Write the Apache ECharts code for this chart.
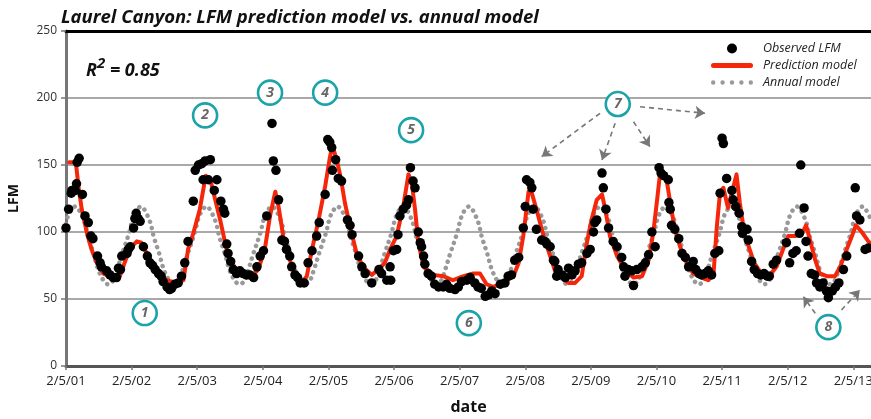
<!DOCTYPE html>
<html>
<head>
<meta charset="utf-8">
<script src="https://cdn.jsdelivr.net/npm/echarts@6/dist/echarts.min.js"></script>
<style>
html,body{margin:0;padding:0;background:#fff;}
#chart{width:871px;height:419px;}
</style>
</head>
<body>
<div id="chart"></div>
<script>
// x values: years since 2/5/01
const tickLabels = ['2/5/01','2/5/02','2/5/03','2/5/04','2/5/05','2/5/06','2/5/07','2/5/08','2/5/09','2/5/10','2/5/11','2/5/12','2/5/13'];

const observedLFM = [
[0.00,103],[0.04,117],[0.08,129],[0.09,131],[0.14,131],[0.16,136],[0.17,152],[0.20,155],[0.25,128],[0.29,112],
[0.34,107],[0.38,97],[0.41,95],[0.48,82],[0.52,77],[0.54,74],[0.62,71],[0.67,68],[0.72,66],[0.77,66],[0.80,73],
[0.83,72],[0.85,82],[0.93,84],[0.95,87],[0.98,89],[1.03,103],[1.05,110],[1.07,114],[1.10,110],[1.13,108],
[1.18,89],[1.24,82],[1.28,77],[1.32,75],[1.36,72],[1.41,69],[1.45,67],[1.48,63],[1.54,59],[1.58,57],[1.61,58],
[1.66,61],[1.71,62],[1.76,67],[1.81,77],[1.86,93],[1.94,123],[1.97,146],[2.02,150],[2.07,151],[2.12,153],
[2.20,154],[2.09,139],[2.17,139],[2.26,131],[2.30,139],[2.36,123],[2.40,117],[2.42,114],[2.45,91],[2.47,84],
[2.51,78],[2.55,72],[2.60,69],[2.65,71],[2.70,69],[2.75,68],[2.80,68],[2.86,66],[2.91,74],[2.96,82],[3.01,86],
[3.06,112],[3.14,181],[3.16,153],[3.20,146],[3.24,124],[3.29,94],[3.33,93],[3.36,87],[3.41,82],[3.44,74],
[3.49,68],[3.53,66],[3.57,62],[3.63,62],[3.69,77],[3.75,86],[3.82,97],[3.86,107],[3.95,128],[3.99,169],
[4.02,167],[4.05,163],[4.06,146],[4.11,154],[4.15,140],[4.20,138],[4.29,109],[4.33,105],[4.36,98],[4.46,82],
[4.51,74],[4.56,69],[4.66,62],[4.77,72],[4.81,69],[4.89,64],[4.94,74],[4.95,64],[4.99,86],[5.04,87],[5.06,98],
[5.09,112],[5.14,117],[5.19,120],[5.22,124],[5.25,148],[5.29,138],[5.32,133],[5.37,100],[5.40,92],[5.42,89],
[5.45,82],[5.47,76],[5.52,69],[5.57,67],[5.62,61],[5.68,59],[5.75,59],[5.80,61],[5.85,58],[5.93,57],[5.98,59],
[6.03,63],[6.11,64],[6.16,66],[6.23,62],[6.28,59],[6.33,58],[6.39,52],[6.44,53],[6.49,56],[6.54,54],[6.62,61],
[6.69,62],[6.74,67],[6.79,68],[6.84,79],[6.90,81],[6.97,103],[7.00,119],[7.02,139],[7.07,137],[7.10,133],
[7.12,117],[7.17,102],[7.25,94],[7.30,93],[7.33,91],[7.38,89],[7.43,79],[7.45,78],[7.48,67],[7.50,72],[7.56,68],
[7.61,66],[7.66,73],[7.71,68],[7.76,71],[7.81,76],[7.86,77],[7.94,84],[7.99,87],[8.04,100],[8.06,107],[8.09,109],
[8.17,144],[8.19,133],[8.23,117],[8.27,103],[8.34,93],[8.40,89],[8.47,81],[8.50,74],[8.52,67],[8.57,72],[8.62,71],
[8.65,60],[8.70,72],[8.78,74],[8.83,77],[8.88,83],[8.93,100],[8.98,89],[9.04,148],[9.07,144],[9.11,142],[9.18,139],
[9.19,122],[9.21,117],[9.23,105],[9.28,102],[9.34,95],[9.39,84],[9.44,81],[9.49,74],[9.56,78],[9.60,72],[9.65,69],
[9.69,68],[9.74,69],[9.79,71],[9.84,68],[9.89,84],[9.95,86],[9.97,129],[10.00,170],[10.02,166],[10.07,140],
[10.15,131],[10.17,124],[10.21,119],[10.26,114],[10.30,104],[10.31,99],[10.38,102],[10.40,94],[10.45,78],
[10.49,72],[10.54,69],[10.59,68],[10.64,69],[10.69,67],[10.72,67],[10.78,76],[10.83,79],[10.98,92],[11.03,77],
[11.08,84],[11.13,86],[11.18,99],[11.20,150],[11.25,118],[11.28,93],[11.31,82],[11.36,69],[11.41,68],[11.44,62],
[11.49,59],[11.54,62],[11.59,56],[11.62,51],[11.68,56],[11.73,59],[11.78,62],[11.85,72],[11.90,82],[12.03,133],
[12.05,112],[12.10,109],[12.18,87],[12.23,88]
];

const predictionModel = [
[0.05,152],[0.15,152],[0.19,134],[0.24,117],[0.32,99],[0.39,87],[0.47,77],[0.57,69],[0.72,66],[0.82,67],
[0.93,82],[1.00,89],[1.08,93],[1.15,92],[1.25,82],[1.38,72],[1.53,64],[1.69,62],[1.79,64],[1.86,87],[1.94,99],
[2.04,117],[2.13,142],[2.20,139],[2.26,127],[2.35,109],[2.46,84],[2.62,69],[2.83,67],[2.93,72],[3.03,87],
[3.11,112],[3.19,130],[3.24,119],[3.31,97],[3.39,82],[3.49,69],[3.59,62],[3.67,67],[3.75,87],[3.85,109],
[3.95,134],[4.02,155],[4.06,165],[4.10,158],[4.14,151],[4.19,140],[4.25,122],[4.33,104],[4.43,84],[4.53,74],
[4.66,68],[4.76,72],[4.86,77],[4.95,88],[5.04,97],[5.14,119],[5.22,143],[5.27,137],[5.32,117],[5.37,92],
[5.45,74],[5.60,68],[5.75,67],[5.90,64],[6.06,67],[6.21,69],[6.31,69],[6.41,61],[6.51,59],[6.67,62],[6.82,67],
[6.90,77],[6.97,97],[7.05,130],[7.10,129],[7.17,117],[7.28,97],[7.38,82],[7.46,70],[7.56,66],[7.66,62],[7.76,62],
[7.86,67],[7.94,92],[8.01,109],[8.09,124],[8.17,128],[8.22,117],[8.29,97],[8.40,82],[8.52,72],[8.65,66],[8.78,67],
[8.88,79],[8.95,99],[9.01,124],[9.06,146],[9.11,144],[9.16,137],[9.21,122],[9.28,102],[9.36,89],[9.46,77],
[9.56,69],[9.69,66],[9.79,64],[9.87,69],[9.92,104],[9.97,130],[10.02,133],[10.09,118],[10.22,143],[10.27,122],
[10.34,99],[10.42,87],[10.49,77],[10.60,69],[10.73,68],[10.83,74],[10.93,87],[11.01,97],[11.11,97],[11.22,99],
[11.28,105],[11.34,94],[11.42,79],[11.49,69],[11.60,67],[11.72,67],[11.80,74],[11.90,87],[11.98,97],[12.04,105],
[12.13,100],[12.23,93],[12.27,91]
];

const annualModel = [
[0.00,106],
[0.04,113],[0.14,119],[0.27,109],[0.34,96],[0.42,84],[0.49,72],[0.57,64],[0.64,61],[0.71,63],[0.78,72],[0.85,83],[0.96,99],
[1.04,113],[1.14,119],[1.27,109],[1.34,96],[1.42,84],[1.49,72],[1.57,64],[1.64,61],[1.71,63],[1.78,72],[1.85,83],[1.96,99],
[2.04,113],[2.14,119],[2.27,109],[2.34,96],[2.42,84],[2.49,72],[2.57,64],[2.64,61],[2.71,63],[2.78,72],[2.85,83],[2.96,99],
[3.04,113],[3.14,119],[3.27,109],[3.34,96],[3.42,84],[3.49,72],[3.57,64],[3.64,61],[3.71,63],[3.78,72],[3.85,83],[3.96,99],
[4.04,113],[4.14,119],[4.27,109],[4.34,96],[4.42,84],[4.49,72],[4.57,64],[4.64,61],[4.71,63],[4.78,72],[4.85,83],[4.96,99],
[5.04,113],[5.14,119],[5.27,109],[5.34,96],[5.42,84],[5.49,72],[5.57,64],[5.64,61],[5.71,63],[5.78,72],[5.85,83],[5.96,99],
[6.04,113],[6.14,119],[6.27,109],[6.34,96],[6.42,84],[6.49,72],[6.57,64],[6.64,61],[6.71,63],[6.78,72],[6.85,83],[6.96,99],
[7.04,113],[7.14,119],[7.27,109],[7.34,96],[7.42,84],[7.49,72],[7.57,64],[7.64,61],[7.71,63],[7.78,72],[7.85,83],[7.96,99],
[8.04,113],[8.14,119],[8.27,109],[8.34,96],[8.42,84],[8.49,72],[8.57,64],[8.64,61],[8.71,63],[8.78,72],[8.85,83],[8.96,99],
[9.04,113],[9.14,119],[9.27,109],[9.34,96],[9.42,84],[9.49,72],[9.57,64],[9.64,61],[9.71,63],[9.78,72],[9.85,83],[9.96,99],
[10.04,113],[10.14,119],[10.27,109],[10.34,96],[10.42,84],[10.49,72],[10.57,64],[10.64,61],[10.71,63],[10.78,72],[10.85,83],[10.96,99],
[11.04,113],[11.14,119],[11.27,109],[11.34,96],[11.42,84],[11.49,72],[11.57,64],[11.64,61],[11.71,63],[11.78,72],[11.85,83],[11.96,99],
[12.04,113],[12.14,119],[12.27,109]
];

// numbered annotation circles [t, LFM, label]
const annotations = [
[1.20,39.5,'1'],[2.12,187,'2'],[3.11,204,'3'],[3.95,204,'4'],[5.26,176,'5'],[6.14,32,'6'],[8.41,195.5,'7'],[11.62,29,'8']
];
// dashed arrows [[fromT, fromV], [toT, toV]]
const arrows = [
[[8.14,188.6],[7.25,156.2]],
[[8.37,181.1],[8.17,153.7]],
[[8.65,182.3],[8.90,163.7]],
[[8.75,193.5],[9.74,188.6]],
[[11.42,39.3],[11.24,51.7]],
[[11.82,41.8],[12.10,56.7]]
];

const FONT = '"Open Sans", "Noto Sans", sans-serif';
const chart = echarts.init(document.getElementById('chart'), null, {renderer:'canvas'});

const legendText = {fontFamily:FONT, fontStyle:'italic', fontSize:12.5, color:'#222', padding:[0,0,0,5], lineHeight:13};

chart.setOption({
  animation:false,
  backgroundColor:'#fff',
  title:[
    {text:'Laurel Canyon: LFM prediction model vs. annual model', left:56, top:3,
     textStyle:{fontFamily:FONT, fontStyle:'italic', fontWeight:'bold', fontSize:18.5, color:'#111'}},
    {text:'{a|R}{b|2}{a| = 0.85}', left:81, top:51,
     textStyle:{rich:{
       a:{fontFamily:FONT, fontStyle:'italic', fontWeight:'bold', fontSize:18, color:'#111', lineHeight:24, verticalAlign:'bottom'},
       b:{fontFamily:FONT, fontStyle:'italic', fontWeight:'bold', fontSize:15, color:'#111', verticalAlign:'top', lineHeight:24}
     }}}
  ],
  legend:{
    orient:'vertical', left:706, top:37, itemWidth:42, itemHeight:10, itemGap:4,
    selectedMode:false,
    data:[
      {name:'Observed LFM'},
      {name:'Prediction model', icon:'path://M2.5,0H39.5A2.5,2.5 0 0 1 39.5,5H2.5A2.5,2.5 0 0 1 2.5,0Z'},
      {name:'Annual model', icon:'path://M0,2.2a2.2,2.2 0 1 0 4.4,0a2.2,2.2 0 1 0 -4.4,0M9.4,2.2a2.2,2.2 0 1 0 4.4,0a2.2,2.2 0 1 0 -4.4,0M18.8,2.2a2.2,2.2 0 1 0 4.4,0a2.2,2.2 0 1 0 -4.4,0M28.2,2.2a2.2,2.2 0 1 0 4.4,0a2.2,2.2 0 1 0 -4.4,0M37.6,2.2a2.2,2.2 0 1 0 4.4,0a2.2,2.2 0 1 0 -4.4,0Z'}
    ],
    formatter:n=>'{t|'+n+'}',
    textStyle:{rich:{t:legendText}}
  },
  grid:{left:66, right:0, top:31, bottom:53, containLabel:false, outerBoundsMode:'none'},
  xAxis:[
    {type:'value', min:0, max:12.27, interval:1, position:'bottom',
     axisLine:{show:true, lineStyle:{color:'#555', width:3}},
     axisTick:{show:true, length:4, lineStyle:{color:'#777', width:1.5}},
     axisLabel:{fontFamily:FONT, fontSize:13, color:'#222', margin:9, showMaxLabel:false,
       formatter:v=>{const i=Math.round(v); return Math.abs(v-i)<1e-6 ? (tickLabels[i]||'') : '';}},
     splitLine:{show:false},
     name:'date', nameLocation:'middle', nameGap:33,
     nameTextStyle:{fontFamily:FONT, fontWeight:'bold', fontSize:16, color:'#111'}},
    {type:'value', min:0, max:12.27, position:'top',
     axisLine:{show:true, lineStyle:{color:'#000', width:3}},
     axisTick:{show:false}, axisLabel:{show:false}, splitLine:{show:false}}
  ],
  yAxis:{type:'value', min:0, max:250, interval:50,
    axisLine:{show:true, lineStyle:{color:'#777', width:3}},
    axisTick:{show:true, length:5, lineStyle:{color:'#777', width:1.5}},
    axisLabel:{fontFamily:FONT, fontSize:12, color:'#333', margin:9},
    splitLine:{show:true, lineStyle:{color:'#8c8c8c', width:1.5}},
    name:'LFM', nameLocation:'middle', nameGap:45,
    nameTextStyle:{fontFamily:FONT, fontWeight:'bold', fontSize:14, color:'#111'}
  },
  series:[
    {name:'Annual model', type:'line', data:annualModel, smooth:0.35, symbol:'none', showSymbol:false,
     lineStyle:{color:'#999', width:4.5, type:[0.1,6.5], cap:'round'}, itemStyle:{color:'#999'}, z:2},
    {name:'Prediction model', type:'line', data:predictionModel, smooth:false, symbol:'none', showSymbol:false,
     lineStyle:{color:'#f5260a', width:4, join:'round', cap:'round'}, itemStyle:{color:'#f5260a'}, z:3},
    {name:'Observed LFM', type:'scatter', data:observedLFM, symbol:'circle', symbolSize:9.5,
     itemStyle:{color:'#000', opacity:1}, z:4},
    {name:'arrows', type:'lines', coordinateSystem:'cartesian2d', z:5,
     data:arrows.map(a=>({coords:a})), symbol:['none','arrow'], symbolSize:10,
     lineStyle:{color:'#777', width:1.6, type:[5,4], opacity:1}},
    {name:'labels', type:'scatter', data:annotations, symbol:'circle', symbolSize:24, z:6,
     itemStyle:{color:'#fff', borderColor:'#1aa3a8', borderWidth:2.6, opacity:1},
     label:{show:true, position:'inside', formatter:p=>p.value[2],
       fontFamily:FONT, fontStyle:'italic', fontSize:14, fontWeight:'bold', color:'#666'}}
  ]
});
</script>
</body>
</html>
